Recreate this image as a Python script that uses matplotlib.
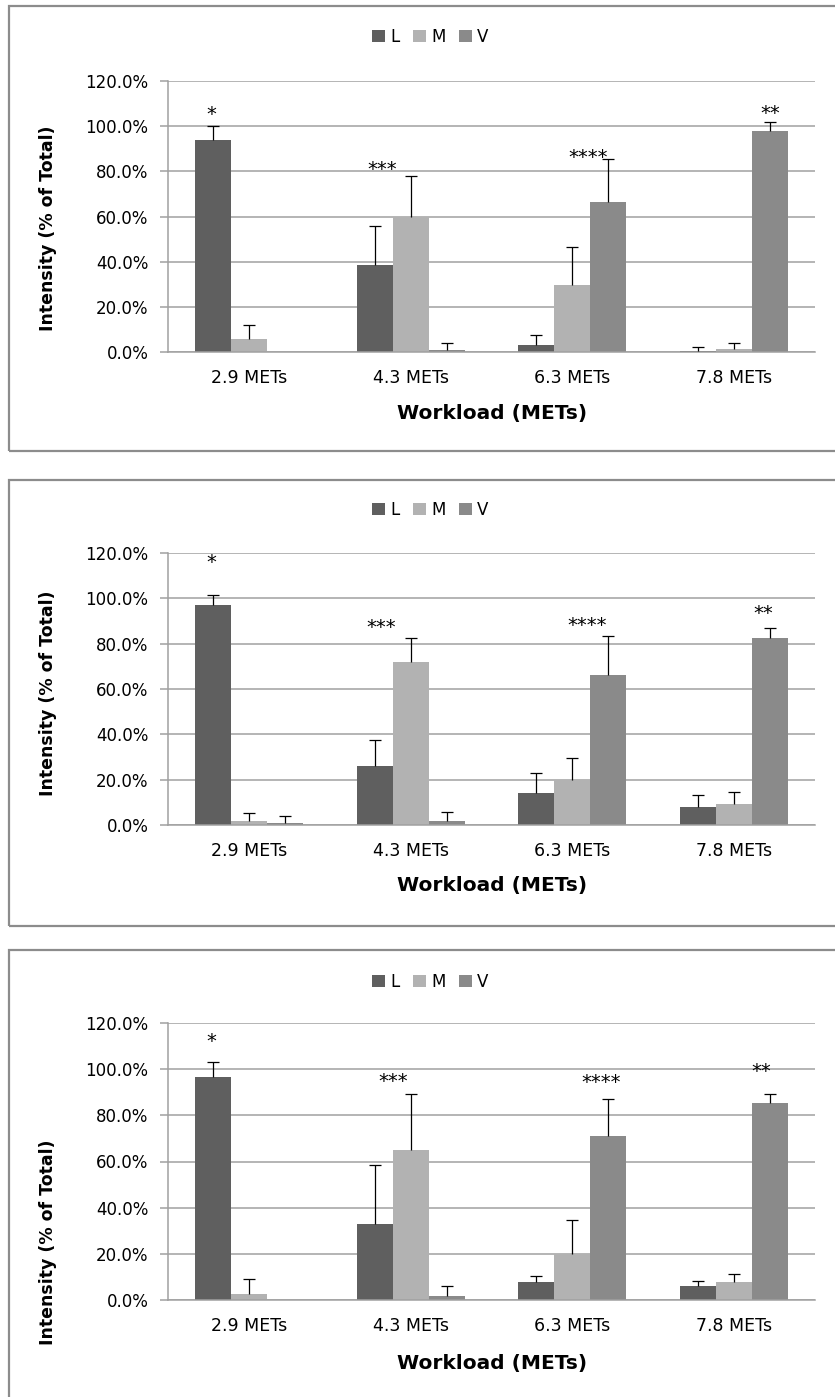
import matplotlib
matplotlib.use('Agg')
import matplotlib.pyplot as plt
from matplotlib.patches import Rectangle, Patch
import numpy as np

# categories and series
categories = ['2.9 METs', '4.3 METs', '6.3 METs', '7.8 METs']
series_names = ['L', 'M', 'V']

# panel 1 (mean, upper SD)
p1_L = [94.0, 38.5, 3.2, 0.6]
p1_M = [5.9, 59.9, 29.6, 1.5]
p1_V = [0.0, 1.0, 66.3, 97.9]
p1_L_err = [6.1, 17.1, 4.3, 1.6]
p1_M_err = [6.0, 18.2, 17.1, 2.5]
p1_V_err = [0.0, 3.0, 19.2, 4.0]

# panel 2
p2_L = [96.9, 26.1, 14.3, 8.1]
p2_M = [1.9, 72.0, 19.9, 9.4]
p2_V = [1.0, 1.9, 66.1, 82.5]
p2_L_err = [4.4, 11.3, 8.5, 5.2]
p2_M_err = [3.5, 10.3, 9.5, 5.2]
p2_V_err = [3.0, 3.8, 17.2, 4.2]

# panel 3
p3_L = [96.7, 32.8, 7.7, 5.9]
p3_M = [2.6, 64.8, 19.8, 7.7]
p3_V = [0.0, 1.6, 71.1, 85.4]
p3_L_err = [6.2, 25.8, 2.6, 2.5]
p3_M_err = [6.7, 24.4, 14.9, 3.4]
p3_V_err = [0.0, 4.3, 15.9, 3.8]

# significance marks
star_labels = ['*', '***', '****', '**']
p1_star_y = [107.9, 83.6, 88.7, 108.6]
p2_star_y = [118.8, 90.1, 90.6, 96.0]
p3_star_y = [114.7, 97.6, 96.9, 101.6]
p1_star_dx = [-0.234, -0.176, 0.099, 0.226]
p2_star_dx = [-0.234, -0.18, 0.09, 0.18]
p3_star_dx = [-0.234, -0.11, 0.18, 0.17]

colors = ['#5f5f5f', '#b2b2b2', '#8a8a8a']
grid_color = '#a0a0a0'

W, H = 835, 1397
fig = plt.figure(figsize=(W / 100, H / 100), dpi=100)


def fx(px):
    return px / W


def fy(py):
    return 1 - py / H


def draw_panel(box_top, box_bottom, ax_top, ax_zero, legend_y, ylab_y, xlab_y,
               vals, errs, star_y, star_dx):
    # frame around the panel
    fig.patches.append(Rectangle((fx(9), fy(box_bottom)), fx(840 - 9), fy(box_top) - fy(box_bottom),
                                 transform=fig.transFigure, fill=False,
                                 edgecolor='#8c8c8c', linewidth=1.6))

    ax = fig.add_axes([fx(168), fy(ax_zero), fx(815 - 168), (ax_zero - ax_top) / H])
    x = np.arange(len(categories))
    width = 1 / 4.5
    offsets = [-width, 0, width]
    for vals_s, err_s, off, c in zip(vals, errs, offsets, colors):
        ax.bar(x + off, vals_s, width, color=c, zorder=2)
        err_s = np.array(err_s)
        v = np.array(vals_s)
        keep = err_s > 0
        xs = (x + off)[keep]
        # upper error bar only, cap on top
        ax.vlines(xs, v[keep], v[keep] + err_s[keep], color='black', linewidth=0.9, zorder=3)
        ax.plot(xs, v[keep] + err_s[keep], linestyle='none', marker='_',
                markersize=9, markeredgewidth=0.9, color='black', zorder=3)

    for i, (lab, sy, dx) in enumerate(zip(star_labels, star_y, star_dx)):
        ax.annotate(lab, (i + dx, sy), xytext=(0, -8.5), textcoords='offset points',
                    ha='center', va='baseline', fontsize=14)

    ax.set_xlim(-0.5, len(categories) - 0.5)
    ax.set_ylim(0, 120)
    ax.set_yticks(range(0, 121, 20))
    ax.set_yticklabels(['%.1f%%' % v for v in range(0, 121, 20)])
    ax.set_xticks(x)
    ax.set_xticklabels(categories)
    ax.yaxis.grid(True, color=grid_color, linewidth=1.1, zorder=0)
    ax.set_axisbelow(True)
    for s in ['top', 'right']:
        ax.spines[s].set_visible(False)
    ax.spines['left'].set_color(grid_color)
    ax.spines['bottom'].set_color(grid_color)
    ax.spines['left'].set_linewidth(1.1)
    ax.spines['bottom'].set_linewidth(1.1)
    ax.tick_params(axis='y', length=6, color=grid_color, width=1.1, pad=8, labelsize=12)
    ax.tick_params(axis='x', length=0, pad=12, labelsize=12.5)

    fig.text(fx(48), fy(ylab_y), 'Intensity (% of Total)', rotation=90,
             ha='center', va='center', fontsize=12.5, fontweight='bold')
    fig.text(fx(492), fy(xlab_y), 'Workload (METs)', ha='center', va='center',
             fontsize=14.5, fontweight='bold')

    handles = [Patch(facecolor=c, label=n) for c, n in zip(colors, series_names)]
    fig.legend(handles=handles, loc='center', bbox_to_anchor=(fx(430), fy(legend_y)),
               ncol=3, frameon=False, fontsize=12, handlelength=0.8, handleheight=0.7,
               handletextpad=0.3, columnspacing=0.8)


draw_panel(6, 451, 81, 352, 37, 228, 413,
           [p1_L, p1_M, p1_V], [p1_L_err, p1_M_err, p1_V_err], p1_star_y, p1_star_dx)
draw_panel(480, 926, 553, 825, 510, 693, 885,
           [p2_L, p2_M, p2_V], [p2_L_err, p2_M_err, p2_V_err], p2_star_y, p2_star_dx)
draw_panel(950, 1405, 1023, 1300, 982, 1242, 1363,
           [p3_L, p3_M, p3_V], [p3_L_err, p3_M_err, p3_V_err], p3_star_y, p3_star_dx)

fig.savefig('out.png', dpi=100)
